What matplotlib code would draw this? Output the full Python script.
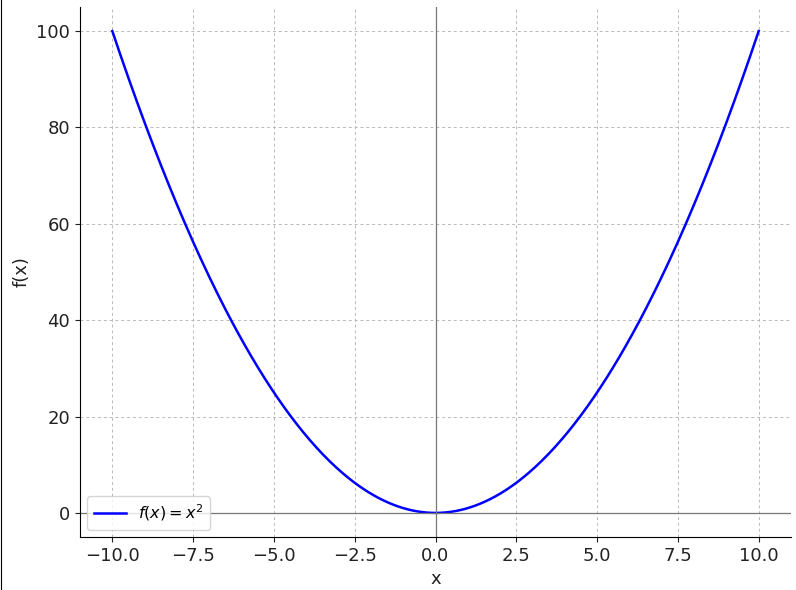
import numpy as np
import matplotlib
matplotlib.use("Agg")
import matplotlib.pyplot as plt
from matplotlib.lines import Line2D

# f(x) = x^2 over [-10, 10]
x_min, x_max = -10, 10
x_ticks = [-10.0, -7.5, -5.0, -2.5, 0.0, 2.5, 5.0, 7.5, 10.0]
y_ticks = [0, 20, 40, 60, 80, 100]

x = np.linspace(x_min, x_max, 400)
y = x ** 2

fig = plt.figure(figsize=(7.96, 5.90), dpi=100)
ax = fig.add_axes([80 / 796, 53 / 590, 711 / 796, 530 / 590])

ax.plot(x, y, color="blue", lw=1.8, label=r"$f(x) = x^2$")
ax.axhline(0, color="#777777", lw=0.9)
ax.axvline(0, color="#777777", lw=0.9)
ax.grid(True, ls=(0, (3, 3)), color="#b8b8b8", lw=0.7)

ax.set_xlim(-11, 11)
ax.set_ylim(-5, 105)
ax.set_xticks(x_ticks)
ax.set_yticks(y_ticks)
ax.tick_params(labelsize=13, colors="#222222")
ax.set_xlabel("x", fontsize=13, color="#222222")
ax.set_ylabel("f(x)", fontsize=13, color="#222222")
for s in ["top", "right"]:
    ax.spines[s].set_visible(False)

ax.legend(loc="lower left", fontsize=11.5, frameon=True, borderaxespad=0.45)

fig.add_artist(Line2D([0.5 / 796, 0.5 / 796], [0, 1], color="black", lw=0.8,
                      transform=fig.transFigure))

fig.savefig("out.png", dpi=100)
